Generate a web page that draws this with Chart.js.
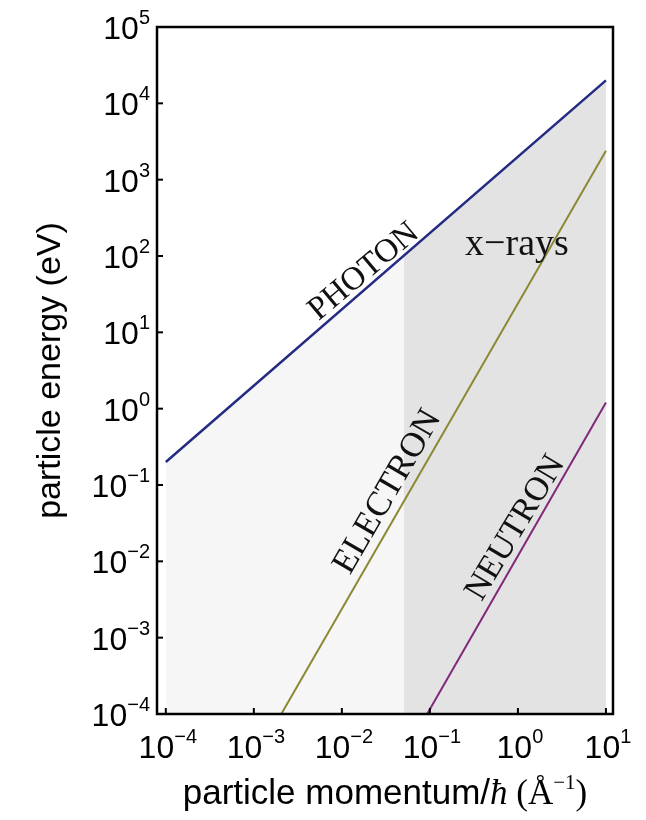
<!DOCTYPE html>
<html>
<head>
<meta charset="utf-8">
<script src="https://cdn.jsdelivr.net/npm/chart.js@4/dist/chart.umd.min.js"></script>
<style>
  html, body { margin: 0; padding: 0; background: #fff; }
  canvas { display: block; }
</style>
</head>
<body>
<canvas id="c" width="646" height="820"></canvas>
<script>
// Dispersion lines: energy (eV) against momentum/hbar (1/Angstrom)
const photonK = [1e-4, 10];
const photonE = [0.2, 2.0e4];
const electronK = [2.05e-3, 10];
const electronE = [1e-4, 2.4e3];
const neutronK = [0.093, 10];
const neutronE = [1e-4, 1.2];

// Shaded bands under the photon line: visible/UV and x-rays
const lowBandK = [1e-4, 0.05];
const lowBandE = [0.2, 100];
const xrayBandK = [0.05, 10];
const xrayBandE = [100, 2.0e4];

// Axis decades
const xExponents = [-4, -3, -2, -1, 0, 1];
const yExponents = [-4, -3, -2, -1, 0, 1, 2, 3, 4, 5];

// In-plot labels: text, momentum, energy, angle in degrees, font size
const labelTexts = ['PHOTON', 'ELECTRON', 'NEUTRON', 'x\u2212rays'];
const labelK = [0.0178, 0.0333, 0.94, 0.975];
const labelE = [62, 0.081, 0.0273, 139];
const labelAngles = [-40, -60, -59, 0];
const labelSizes = [33, 35, 34, 38];

const pts = (ks, es) => ks.map((k, i) => ({ x: k, y: es[i] }));

const SANS = '"Liberation Sans", Arial, sans-serif';
const SERIF = '"Liberation Serif", "Times New Roman", serif';

function drawPower(ctx, exp, x, y, align) {
  const base = '10';
  const sup = exp < 0 ? '\u2212' + Math.abs(exp) : String(exp);
  ctx.font = '32px ' + SANS;
  const wb = ctx.measureText(base).width;
  ctx.font = '20px ' + SANS;
  const ws = ctx.measureText(sup).width;
  const total = wb + ws;
  const x0 = align === 'right' ? x - total : x - total / 2;
  ctx.textAlign = 'left';
  ctx.textBaseline = 'alphabetic';
  ctx.font = '32px ' + SANS;
  ctx.fillText(base, x0, y);
  ctx.font = '20px ' + SANS;
  ctx.fillText(sup, x0 + wb, y - 15);
}

const decorations = {
  id: 'decorations',
  afterDatasetsDraw(chart) {
    const ctx = chart.ctx;
    const a = chart.chartArea;
    const xs = chart.scales.x, ys = chart.scales.y;
    ctx.save();
    ctx.fillStyle = '#111';

    // in-plot labels
    labelTexts.forEach((t, i) => {
      const px = xs.getPixelForValue(labelK[i]);
      const py = ys.getPixelForValue(labelE[i]);
      ctx.save();
      ctx.translate(px, py);
      ctx.rotate(labelAngles[i] * Math.PI / 180);
      ctx.font = labelSizes[i] + 'px ' + SERIF;
      ctx.textAlign = 'center';
      ctx.textBaseline = 'middle';
      ctx.fillText(t, 0, 0);
      ctx.restore();
    });

    // frame
    ctx.strokeStyle = '#000';
    ctx.lineWidth = 2.5;
    ctx.strokeRect(a.left, a.top, a.right - a.left, a.bottom - a.top);

    // inward ticks
    ctx.lineWidth = 2;
    xExponents.forEach(e => {
      const px = xs.getPixelForValue(Math.pow(10, e));
      ctx.beginPath();
      ctx.moveTo(px, a.bottom);
      ctx.lineTo(px, a.bottom - 6);
      ctx.stroke();
    });
    yExponents.forEach(e => {
      const py = ys.getPixelForValue(Math.pow(10, e));
      ctx.beginPath();
      ctx.moveTo(a.left, py);
      ctx.lineTo(a.left + 6, py);
      ctx.stroke();
    });

    // tick labels
    ctx.fillStyle = '#000';
    xExponents.forEach(e => {
      const px = xs.getPixelForValue(Math.pow(10, e));
      drawPower(ctx, e, px + 2, a.bottom + 44, 'center');
    });
    yExponents.forEach(e => {
      const py = ys.getPixelForValue(Math.pow(10, e));
      drawPower(ctx, e, a.left - 7, py + 12, 'right');
    });

    // y title
    ctx.save();
    ctx.translate(60, (a.top + a.bottom) / 2);
    ctx.rotate(-Math.PI / 2);
    ctx.font = '34px ' + SANS;
    ctx.textAlign = 'center';
    ctx.textBaseline = 'alphabetic';
    ctx.fillText('particle energy (eV)', 0, 0);
    ctx.restore();

    // x title: "particle momentum/ħ (Å⁻¹)"
    const parts = [
      { t: 'particle momentum/', f: '35px ' + SANS, dy: 0 },
      { t: '\u0127', f: 'italic 35px ' + SERIF, dy: 0 },
      { t: ' (\u00C5', f: '35px ' + SERIF, dy: 0 },
      { t: '\u22121', f: '21px ' + SERIF, dy: -15 },
      { t: ')', f: '35px ' + SERIF, dy: 0 }
    ];
    let w = 0;
    parts.forEach(p => { ctx.font = p.f; p.w = ctx.measureText(p.t).width; w += p.w; });
    let x = (a.left + a.right) / 2 - w / 2;
    const yb = 804;
    ctx.textAlign = 'left';
    ctx.textBaseline = 'alphabetic';
    parts.forEach(p => { ctx.font = p.f; ctx.fillText(p.t, x, yb + p.dy); x += p.w; });

    ctx.restore();
  }
};

new Chart(document.getElementById('c'), {
  type: 'line',
  data: {
    datasets: [
      { data: pts(lowBandK, lowBandE), borderWidth: 0, pointRadius: 0,
        backgroundColor: '#f6f6f6', fill: 'start', order: 10 },
      { data: pts(xrayBandK, xrayBandE), borderWidth: 0, pointRadius: 0,
        backgroundColor: '#e3e3e3', fill: 'start', order: 9 },
      { data: pts(photonK, photonE), borderColor: '#232b82', borderWidth: 2.5,
        pointRadius: 0, fill: false, order: 1 },
      { data: pts(electronK, electronE), borderColor: '#8d8834', borderWidth: 2,
        pointRadius: 0, fill: false, order: 1 },
      { data: pts(neutronK, neutronE), borderColor: '#82287a', borderWidth: 2,
        pointRadius: 0, fill: false, order: 1 }
    ]
  },
  options: {
    responsive: false,
    animation: false,
    events: [],
    layout: { padding: { left: 157, right: 33, top: 27, bottom: 106 } },
    plugins: { legend: { display: false }, tooltip: { enabled: false } },
    scales: {
      x: { type: 'logarithmic', display: false, min: Math.pow(10, -4.1), max: Math.pow(10, 1.08) },
      y: { type: 'logarithmic', display: false, min: 1e-4, max: 1e5 }
    }
  },
  plugins: [decorations]
});
</script>
</body>
</html>
